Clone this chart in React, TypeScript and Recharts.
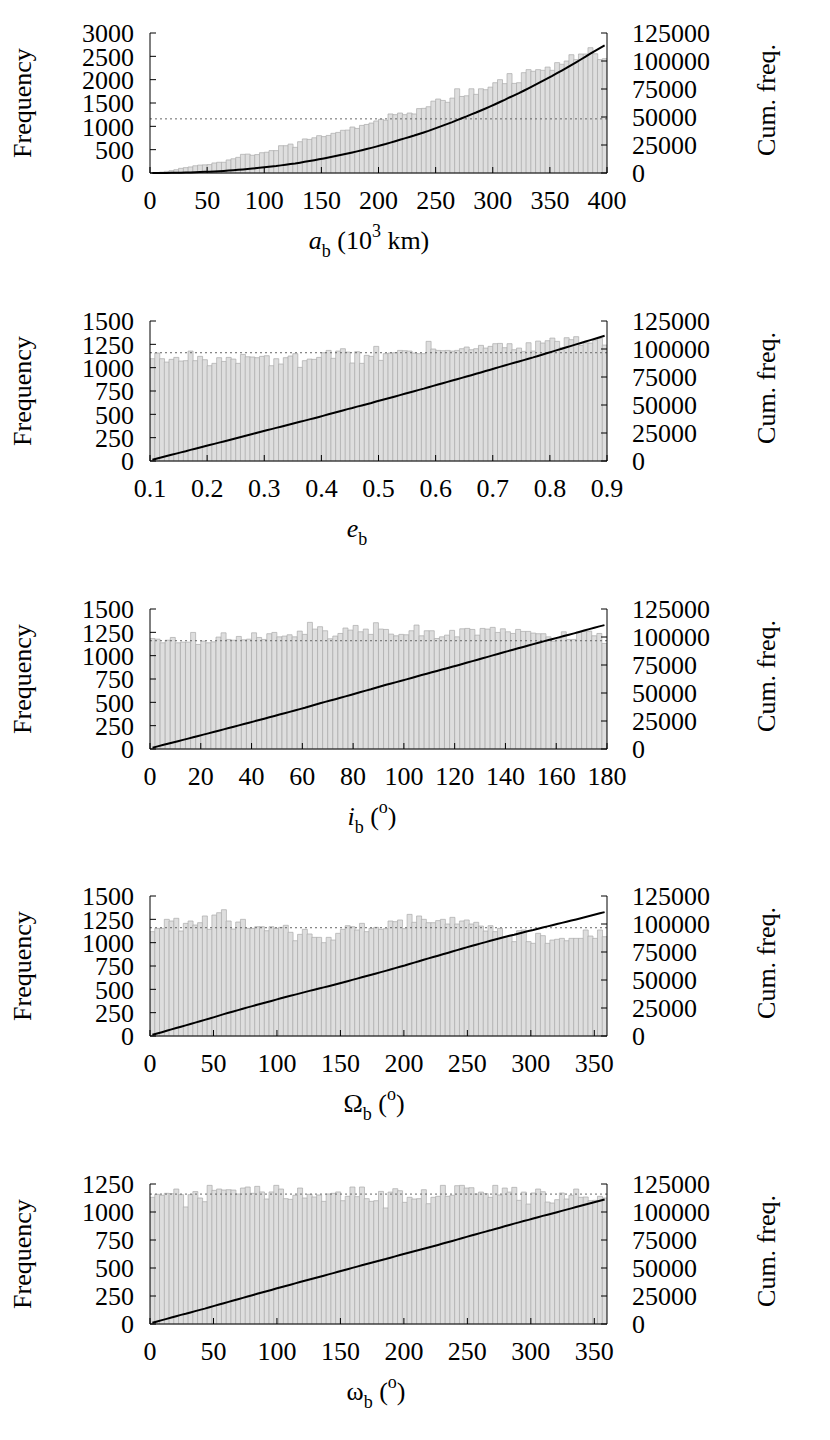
import React from 'react'
import { ComposedChart, Bar, Line, XAxis, YAxis, ReferenceLine } from 'recharts'

// histogram counts per bin
const aFreq = [
  5, 10, 20, 35, 50, 70, 100, 115, 130, 155,
  170, 175, 180, 215, 230, 230, 280, 305, 335, 400,
  405, 380, 395, 435, 445, 480, 480, 585, 585, 620,
  550, 670, 730, 720, 755, 800, 780, 805, 850, 870,
  915, 920, 985, 955, 1020, 1040, 1070, 1115, 1150, 1130,
  1265, 1250, 1285, 1250, 1285, 1265, 1380, 1385, 1420, 1540,
  1585, 1555, 1515, 1605, 1805, 1640, 1655, 1805, 1685, 1805,
  1785, 1840, 1935, 2000, 1915, 2130, 1920, 1935, 2150, 2215,
  2180, 2215, 2200, 2270, 2200, 2365, 2330, 2400, 2535, 2430,
  2550, 2550, 2685, 2555, 2430, 2450,
]
const eFreq = [
  1096, 1157, 1096, 1060, 1089, 1110, 1071, 1075, 1178, 1075,
  1121, 1085, 1021, 1046, 1107, 1067, 1110, 1092, 1046, 1142,
  1117, 1114, 1107, 1121, 1128, 1021, 1096, 1039, 1107, 1125,
  1150, 1003, 1075, 1092, 1089, 1110, 1160, 1185, 1100, 1178,
  1203, 1167, 1050, 1171, 1046, 1132, 1121, 1228, 1078, 1150,
  1157, 1160, 1185, 1182, 1178, 1157, 1150, 1150, 1282, 1200,
  1185, 1182, 1185, 1178, 1185, 1203, 1221, 1192, 1203, 1239,
  1210, 1228, 1257, 1260, 1214, 1257, 1192, 1210, 1175, 1267,
  1178, 1285, 1264, 1289, 1317, 1282, 1217, 1321, 1300, 1332,
  1239, 1267, 1264, 1296, 1314, 1242,
]
const iFreq = [
  1184, 1177, 1138, 1166, 1195, 1138, 1145, 1145, 1249, 1120,
  1156, 1138, 1148, 1199, 1245, 1174, 1166, 1206, 1170, 1177,
  1245, 1195, 1174, 1235, 1249, 1202, 1210, 1224, 1202, 1263,
  1228, 1357, 1285, 1310, 1267, 1181, 1210, 1238, 1296, 1274,
  1324, 1256, 1285, 1228, 1353, 1285, 1281, 1231, 1213, 1228,
  1224, 1267, 1328, 1213, 1267, 1267, 1184, 1202, 1220, 1271,
  1202, 1288, 1292, 1281, 1220, 1292, 1285, 1303, 1249, 1288,
  1256, 1238, 1281, 1260, 1260, 1242, 1235, 1235, 1202, 1156,
  1184, 1256, 1174, 1174, 1256, 1260, 1263, 1213, 1238, 1131,
]
const nodeFreq = [
  1118, 1153, 1153, 1250, 1232, 1261, 1125, 1207, 1232, 1189,
  1214, 1286, 1143, 1296, 1321, 1353, 1232, 1146, 1221, 1250,
  1153, 1153, 1171, 1171, 1128, 1171, 1153, 1164, 1186, 1111,
  1021, 1089, 1143, 1093, 1057, 1057, 1000, 1057, 1028, 1100,
  1143, 1182, 1171, 1136, 1207, 1118, 1153, 1164, 1143, 1150,
  1232, 1225, 1243, 1150, 1303, 1218, 1286, 1250, 1214, 1214,
  1236, 1250, 1200, 1271, 1200, 1232, 1243, 1200, 1218, 1178,
  1125, 1182, 1118, 1153, 1064, 1071, 1011, 1128, 1136, 1011,
  993, 1100, 1075, 993, 1028, 1036, 1046, 1021, 1046, 1046,
  1046, 1136, 1071, 1046, 1136, 1064,
]
const periFreq = [
  1131, 1158, 1149, 1167, 1164, 1205, 1155, 1045, 1155, 1182,
  1125, 1092, 1238, 1193, 1205, 1196, 1199, 1196, 1161, 1214,
  1223, 1167, 1229, 1179, 1116, 1179, 1238, 1205, 1119, 1113,
  1149, 1214, 1125, 1158, 1134, 1152, 1095, 1161, 1167, 1179,
  1101, 1140, 1223, 1137, 1223, 1119, 1095, 1101, 1184, 1036,
  1178, 1208, 1190, 1086, 1131, 1116, 1119, 1199, 1074, 1131,
  1140, 1238, 1140, 1149, 1235, 1238, 1214, 1217, 1161, 1178,
  1164, 1131, 1238, 1152, 1214, 1178, 1220, 1104, 1178, 1071,
  1170, 1205, 1181, 1089, 1080, 1110, 1170, 1116, 1149, 1205,
  1131, 1134, 1101, 1104, 1140, 1125,
]

const aTicks = [0, 50, 100, 150, 200, 250, 300, 350, 400]
const eTicks = [0.1, 0.2, 0.3, 0.4, 0.5, 0.6, 0.7, 0.8, 0.9]
const iTicks = [0, 20, 40, 60, 80, 100, 120, 140, 160, 180]
const angTicks = [0, 50, 100, 150, 200, 250, 300, 350]
const freqTicks3000 = [0, 500, 1000, 1500, 2000, 2500, 3000]
const freqTicks1500 = [0, 250, 500, 750, 1000, 1250, 1500]
const freqTicks1250 = [0, 250, 500, 750, 1000, 1250]
const cumTicks = [0, 25000, 50000, 75000, 100000, 125000]
const meanLevel = 1160

const FONT = '"Liberation Serif", "DejaVu Serif", serif'
const W = 830
const PLOT_L = 150
const PLOT_R = 607
const PLOT_H = 140

type PanelDef = {
  freq: number[]
  lo: number
  hi: number
  xTicks: number[]
  yTicks: number[]
  top: number
  fmt?: (v: number) => string
}

const panels: PanelDef[] = [
  { freq: aFreq, lo: 0, hi: 400, xTicks: aTicks, yTicks: freqTicks3000, top: 33 },
  { freq: eFreq, lo: 0.1, hi: 0.9, xTicks: eTicks, yTicks: freqTicks1500, top: 321, fmt: v => v.toFixed(1) },
  { freq: iFreq, lo: 0, hi: 180, xTicks: iTicks, yTicks: freqTicks1500, top: 609 },
  { freq: nodeFreq, lo: 0, hi: 360, xTicks: angTicks, yTicks: freqTicks1500, top: 896 },
  { freq: periFreq, lo: 0, hi: 360, xTicks: angTicks, yTicks: freqTicks1250, top: 1184 },
]

const tickStyle = { fill: '#000', fontSize: 26, fontFamily: FONT }

function Panel({ p }: { p: PanelDef }) {
  const w = (p.hi - p.lo) / p.freq.length
  let run = 0
  const data = p.freq.map((f, k) => {
    run += f
    return { x: p.lo + (k + 0.5) * w, freq: f, cum: run }
  })
  const yMax = p.yTicks[p.yTicks.length - 1]

  return (
    <div style={{ position: 'absolute', left: 0, top: p.top - 30 }}>
      <ComposedChart
        width={W}
        height={288}
        data={data}
        margin={{ top: 30, right: W - PLOT_R - 100, bottom: 288 - 30 - PLOT_H - 60, left: PLOT_L - 100 }}
        barCategoryGap={0}
        barGap={0}
      >
        <Bar
          xAxisId="b"
          yAxisId="l"
          dataKey="freq"
          fill="#dedede"
          stroke="#ababab"
          strokeWidth={0.7}
          isAnimationActive={false}
        />
        <ReferenceLine xAxisId="b" yAxisId="l" y={meanLevel} stroke="#666" strokeDasharray="2 3" strokeWidth={1} />
        <Line
          xAxisId="b"
          yAxisId="r"
          dataKey="cum"
          type="linear"
          stroke="#000"
          strokeWidth={2}
          dot={false}
          isAnimationActive={false}
        />
        <XAxis
          xAxisId="b"
          dataKey="x"
          type="number"
          domain={[p.lo, p.hi]}
          ticks={p.xTicks}
          interval={0}
          allowDataOverflow
          height={60}
          stroke="#000"
          tickSize={-6}
          tickMargin={24}
          tick={tickStyle}
          tickFormatter={p.fmt}
        />
        <XAxis
          xAxisId="t"
          orientation="top"
          dataKey="x"
          type="number"
          domain={[p.lo, p.hi]}
          ticks={p.xTicks}
          interval={0}
          allowDataOverflow
          height={0}
          stroke="#000"
          tickSize={-6}
          tick={false}
        />
        <YAxis
          yAxisId="l"
          domain={[0, yMax]}
          ticks={p.yTicks}
          interval={0}
          width={100}
          stroke="#000"
          tickSize={-6}
          tickMargin={22}
          tick={tickStyle}
        />
        <YAxis
          yAxisId="r"
          orientation="right"
          domain={[0, 125000]}
          ticks={cumTicks}
          interval={0}
          width={100}
          stroke="#000"
          tickSize={-6}
          tickMargin={31}
          tick={tickStyle}
        />
      </ComposedChart>
    </div>
  )
}

const SUB = 18

function Titles() {
  const base = (i: number) => panels[i].top + PLOT_H + 76
  const yMid = (i: number) => panels[i].top + 70
  return (
    <svg width={W} height={1440} style={{ position: 'absolute', left: 0, top: 0, pointerEvents: 'none' }}>
      <g fontFamily={FONT} fontSize={26} fill="#000">
        {panels.map((p, i) => (
          <g key={i}>
            <text transform={`translate(31, ${yMid(i)}) rotate(-90)`} textAnchor="middle">Frequency</text>
            <text transform={`translate(775, ${yMid(i) - 3}) rotate(-90)`} textAnchor="middle">Cum. freq.</text>
          </g>
        ))}
        <text x={369} y={base(0)} textAnchor="middle">
          <tspan fontStyle="italic">a</tspan>
          <tspan fontSize={SUB} dy={8}>b</tspan>
          <tspan dy={-8}>{' (10'}</tspan>
          <tspan fontSize={SUB} dy={-12}>3</tspan>
          <tspan dy={12}>{' km)'}</tspan>
        </text>
        <text x={357} y={base(1)} textAnchor="middle">
          <tspan fontStyle="italic">e</tspan>
          <tspan fontSize={SUB} dy={8}>b</tspan>
        </text>
        <text x={372} y={base(2)} textAnchor="middle">
          <tspan fontStyle="italic">i</tspan>
          <tspan fontSize={SUB} dy={8}>b</tspan>
          <tspan dy={-8}>{' ('}</tspan>
          <tspan fontSize={SUB} dy={-12}>o</tspan>
          <tspan dy={12}>)</tspan>
        </text>
        <text x={374} y={base(3)} textAnchor="middle">
          <tspan>Ω</tspan>
          <tspan fontSize={SUB} dy={8}>b</tspan>
          <tspan dy={-8}>{' ('}</tspan>
          <tspan fontSize={SUB} dy={-12}>o</tspan>
          <tspan dy={12}>)</tspan>
        </text>
        <text x={376} y={base(4)} textAnchor="middle">
          <tspan>ω</tspan>
          <tspan fontSize={SUB} dy={8}>b</tspan>
          <tspan dy={-8}>{' ('}</tspan>
          <tspan fontSize={SUB} dy={-12}>o</tspan>
          <tspan dy={12}>)</tspan>
        </text>
      </g>
    </svg>
  )
}

export default function App() {
  return (
    <div style={{ position: 'absolute', left: 0, top: 0, width: W, height: 1440, background: '#fff' }}>
      {panels.map((p, i) => (
        <Panel key={i} p={p} />
      ))}
      <Titles />
    </div>
  )
}
